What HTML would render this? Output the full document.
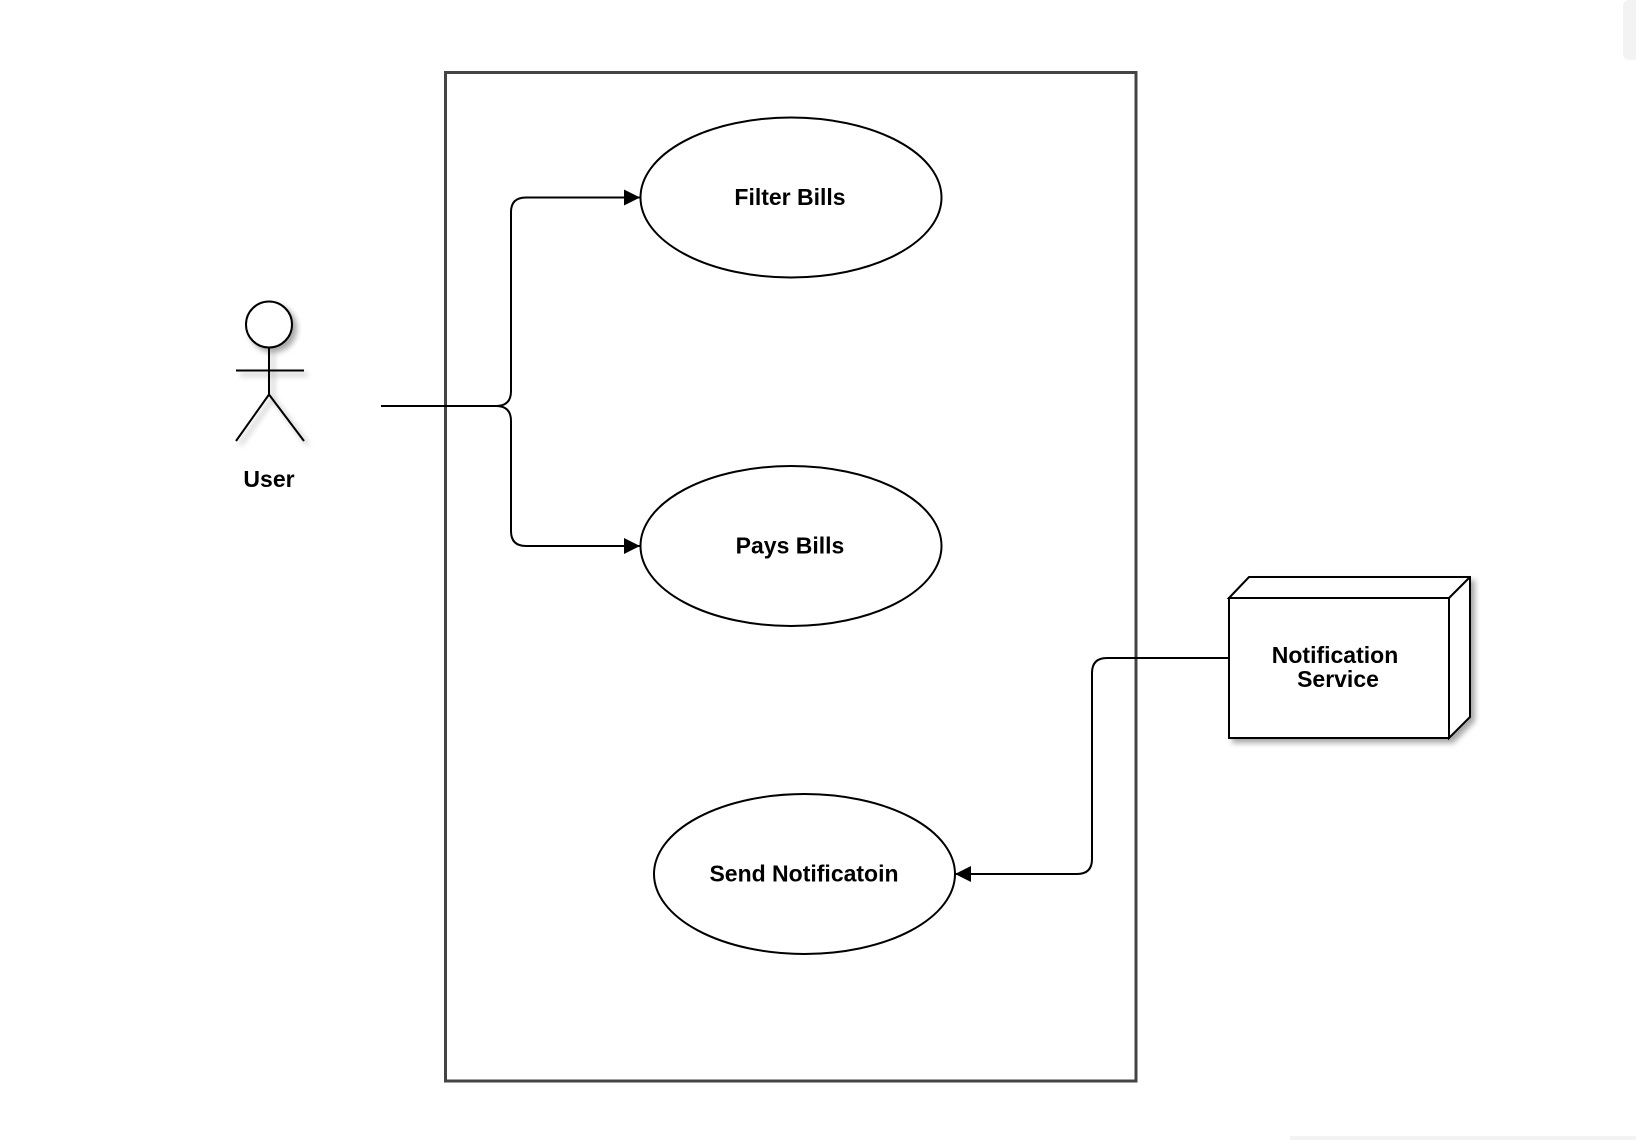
<!DOCTYPE html>
<html><head><meta charset="utf-8"><style>
html,body{margin:0;padding:0;background:#fff;width:1636px;height:1140px;overflow:hidden}
svg{display:block}
text{font-family:"Liberation Sans",Arial,sans-serif;font-weight:bold;font-size:23px;fill:#000}
</style></head><body>
<svg width="1636" height="1140" viewBox="0 0 1636 1140" xmlns="http://www.w3.org/2000/svg">
<defs>
<marker id="ar" viewBox="0 0 10 10" refX="10" refY="5" markerWidth="16" markerHeight="16" markerUnits="userSpaceOnUse" orient="auto">
<path d="M0,0 L10,5 L0,10 z" fill="#000"/></marker>
<filter id="sh" x="-30%" y="-30%" width="160%" height="160%"><feGaussianBlur in="SourceAlpha" stdDeviation="3"/><feOffset dx="4" dy="4"/><feComponentTransfer><feFuncA type="linear" slope="0.35"/></feComponentTransfer><feMerge><feMergeNode/><feMergeNode in="SourceGraphic"/></feMerge></filter>
</defs>
<rect x="1623" y="0" width="20" height="60" rx="6" fill="#f3f3f3"/>
<rect x="1290" y="1136" width="346" height="6" fill="#f3f3f3"/>
<rect x="445.5" y="72.5" width="690.5" height="1008.5" fill="none" stroke="#444" stroke-width="3"/>
<g filter="url(#sh)" stroke="#000" stroke-width="2" fill="#fff">
<circle cx="269" cy="324.5" r="23"/>
<line x1="269" y1="347.5" x2="269" y2="394.5"/>
<line x1="236" y1="370.5" x2="304" y2="370.5"/>
<line x1="269" y1="394.5" x2="236" y2="441"/>
<line x1="269" y1="394.5" x2="304" y2="441"/>
</g>
<text x="269" y="487" text-anchor="middle">User</text>
<ellipse cx="791" cy="197.5" rx="150.5" ry="80" fill="#fff" stroke="#000" stroke-width="2"/>
<text x="790" y="205" text-anchor="middle">Filter Bills</text>
<ellipse cx="791" cy="546" rx="150.5" ry="80" fill="#fff" stroke="#000" stroke-width="2"/>
<text x="790" y="553.5" text-anchor="middle">Pays Bills</text>
<ellipse cx="804.5" cy="874" rx="150.5" ry="80" fill="#fff" stroke="#000" stroke-width="2"/>
<text x="804" y="881.5" text-anchor="middle">Send Notificatoin</text>
<g fill="none" stroke="#000" stroke-width="2">
<path d="M381,406 L496,406 Q511,406 511,391 L511,212 Q511,197.5 526,197.5 L640,197.5" marker-end="url(#ar)"/>
<path d="M496,406 Q511,406 511,421 L511,531 Q511,546 526,546 L640,546" marker-end="url(#ar)"/>
<path d="M1229,658 L1107,658 Q1092,658 1092,673 L1092,859 Q1092,874 1077,874 L955,874" marker-end="url(#ar)"/>
</g>
<g filter="url(#sh)" stroke="#000" stroke-width="2" fill="#fff">
<path d="M1229,598 L1249,577 L1470,577 L1470,717 L1449,738 L1449,598 Z"/>
<rect x="1229" y="598" width="220" height="140"/>
<line x1="1449" y1="598" x2="1470" y2="577"/>
</g>
<text x="1335" y="663" text-anchor="middle">Notification</text>
<text x="1338" y="687" text-anchor="middle">Service</text>
</svg>
</body></html>
